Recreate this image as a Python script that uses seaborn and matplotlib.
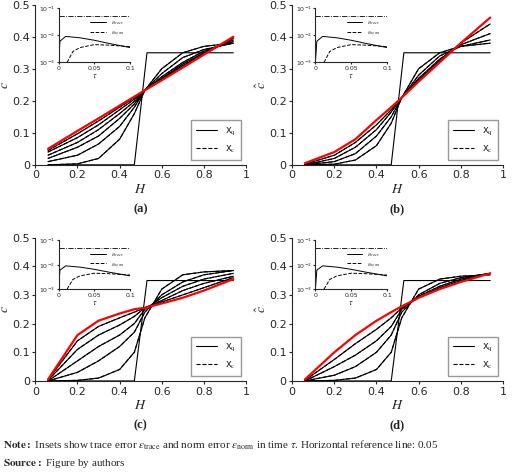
import numpy as np
import matplotlib
matplotlib.use('Agg')
import matplotlib.pyplot as plt
import seaborn as sns

sns.set_style('ticks')
plt.rcParams['font.family'] = ['DejaVu Sans']
plt.rcParams['mathtext.fontset'] = 'stix'

H = [0.06, 0.2, 0.3, 0.4, 0.47, 0.52, 0.6, 0.7, 0.8, 0.94]
step_H = [0.06, 0.47, 0.53, 0.94]
step_c = [0, 0, 0.35, 0.35]

curves_a = [
    [0.00, 0.003, 0.02, 0.08, 0.16, 0.233, 0.30, 0.35, 0.37, 0.38],
    [0.01, 0.03, 0.065, 0.12, 0.18, 0.233, 0.285, 0.335, 0.36, 0.38],
    [0.02, 0.055, 0.09, 0.145, 0.19, 0.233, 0.275, 0.32, 0.355, 0.385],
    [0.03, 0.07, 0.11, 0.16, 0.198, 0.233, 0.27, 0.315, 0.35, 0.39],
    [0.04, 0.085, 0.125, 0.172, 0.205, 0.233, 0.268, 0.31, 0.347, 0.395],
    [0.045, 0.097, 0.137, 0.18, 0.21, 0.233, 0.266, 0.307, 0.345, 0.398],
]
red_a = [0.05, 0.106, 0.145, 0.185, 0.213, 0.233, 0.264, 0.304, 0.344, 0.40]

curves_b = [
    [0.0, 0.002, 0.015, 0.06, 0.13, 0.21, 0.30, 0.35, 0.37, 0.38],
    [0.0, 0.01, 0.035, 0.09, 0.15, 0.21, 0.28, 0.34, 0.37, 0.39],
    [0.0, 0.02, 0.055, 0.11, 0.165, 0.21, 0.27, 0.33, 0.375, 0.41],
    [0.002, 0.03, 0.07, 0.125, 0.172, 0.21, 0.265, 0.325, 0.38, 0.44],
]
red_b = [0.005, 0.04, 0.08, 0.14, 0.18, 0.21, 0.26, 0.32, 0.38, 0.46]

curves_c = [
    [0.0, 0.002, 0.01, 0.04, 0.10, 0.22, 0.32, 0.37, 0.38, 0.385],
    [0.0, 0.03, 0.07, 0.12, 0.17, 0.24, 0.30, 0.345, 0.37, 0.385],
    [0.0, 0.07, 0.12, 0.16, 0.20, 0.25, 0.29, 0.33, 0.355, 0.375],
    [0.002, 0.11, 0.16, 0.195, 0.225, 0.255, 0.28, 0.315, 0.34, 0.365],
    [0.004, 0.14, 0.19, 0.22, 0.24, 0.255, 0.275, 0.30, 0.325, 0.36],
]
red_c = [0.005, 0.16, 0.21, 0.235, 0.25, 0.255, 0.27, 0.29, 0.315, 0.355]

curves_d = [
    [0.0, 0.002, 0.01, 0.04, 0.10, 0.22, 0.32, 0.355, 0.365, 0.37],
    [0.0, 0.02, 0.05, 0.10, 0.16, 0.24, 0.30, 0.34, 0.36, 0.375],
    [0.0, 0.05, 0.09, 0.14, 0.19, 0.25, 0.295, 0.33, 0.355, 0.375],
    [0.002, 0.075, 0.13, 0.18, 0.22, 0.255, 0.29, 0.325, 0.35, 0.375],
]
red_d = [0.005, 0.10, 0.16, 0.21, 0.24, 0.26, 0.29, 0.32, 0.345, 0.375]

tau_trace = [0, 0.002, 0.01, 0.03, 0.05, 0.07, 0.1]
err_trace = [1e-3, 6e-3, 9e-3, 8e-3, 6.5e-3, 5e-3, 3.5e-3]
tau_norm = [0.012, 0.02, 0.03, 0.05, 0.07, 0.1]
err_norm = [1e-3, 2.5e-3, 3.5e-3, 4.5e-3, 4.3e-3, 3.8e-3]
ref_line = 0.05

panels = [
    ('(a)', curves_a, red_a, [0.068, 0.653, 0.405, 0.337]),
    ('(b)', curves_b, red_b, [0.562, 0.653, 0.405, 0.337]),
    ('(c)', curves_c, red_c, [0.068, 0.198, 0.405, 0.302]),
    ('(d)', curves_d, red_d, [0.562, 0.198, 0.405, 0.302]),
]

fig = plt.figure(figsize=(5.2, 4.75), dpi=100)
for label, curves, red, rect in panels:
    ax = fig.add_axes(rect)
    sns.lineplot(x=step_H, y=step_c, ax=ax, color='k', lw=0.8)
    for cv in curves:
        sns.lineplot(x=H, y=cv, ax=ax, color='k', lw=0.8)
        sns.lineplot(x=H, y=cv, ax=ax, color='k', lw=0.8, linestyle='--')
    sns.lineplot(x=H, y=red, ax=ax, color='red', lw=1.6)
    ax.set_xlim(0, 1)
    ax.set_ylim(0, 0.5)
    ax.set_xticks([0, 0.2, 0.4, 0.6, 0.8, 1])
    ax.set_xticklabels(['0', '0.2', '0.4', '0.6', '0.8', '1'])
    ax.set_yticks([0, 0.1, 0.2, 0.3, 0.4, 0.5])
    ax.set_yticklabels(['0', '0.1', '0.2', '0.3', '0.4', '0.5'])
    ax.tick_params(labelsize=8, length=2, pad=2)
    ax.set_xlabel('$H$', fontsize=10, labelpad=1)
    ax.set_ylabel(r'$\hat{c}$', fontsize=10, labelpad=0)
    sns.despine(ax=ax)
    ax.plot([], [], 'k-', lw=0.8, label='x$_\\mathrm{q}$')
    ax.plot([], [], 'k--', lw=0.8, label='x$_\\mathrm{c}$')
    ax.legend(loc='lower right', fontsize=7, fancybox=False, edgecolor='0.5',
              handlelength=2.2, borderpad=0.5, labelspacing=0.6)
    hpx = rect[3] * 475
    ax.text(0.5, -38 / hpx, label, transform=ax.transAxes, ha='center', va='top',
            fontsize=9, fontweight='bold', family='Liberation Serif')

    # inset with errors
    x0, y0, w, h = rect
    ins = fig.add_axes([x0 + 0.11 * w, y0 + 0.64 * h, 0.34 * w, 0.34 * h])
    ins.set_yscale('log')
    sns.lineplot(x=tau_trace, y=err_trace, ax=ins, color='k', lw=0.7, label=r'$\varepsilon_{trace}$')
    sns.lineplot(x=tau_norm, y=err_norm, ax=ins, color='k', lw=0.7, linestyle='--', label=r'$\varepsilon_{norm}$')
    ins.axhline(ref_line, color='k', lw=0.6, linestyle='-.')
    ins.set_xlim(0, 0.1)
    ins.set_ylim(1e-3, 1e-1)
    ins.set_xticks([0, 0.05, 0.1])
    ins.set_xticklabels(['0', '0.05', '0.1'])
    ins.tick_params(labelsize=4.5, length=1.5, pad=1)
    ins.minorticks_off()
    ins.set_xlabel(r'$\tau$', fontsize=6, labelpad=0)
    ins.legend(loc='upper right', bbox_to_anchor=(1.0, 0.9), fontsize=4.5,
               frameon=False, handlelength=2.5, labelspacing=0.3)
    ins.patch.set_alpha(0)
    sns.despine(ax=ins)

fig.text(0.005, 0.055, r'$\bf{Note:}$ Insets show trace error $\varepsilon_{\rm trace}$ and norm error $\varepsilon_{\rm norm}$ in time $\tau$. Horizontal reference line: 0.05',
         fontsize=8, family='Liberation Serif')
fig.text(0.005, 0.02, r'$\bf{Source:}$ Figure by authors', fontsize=8, family='Liberation Serif')

fig.savefig('out.png', dpi=100)
